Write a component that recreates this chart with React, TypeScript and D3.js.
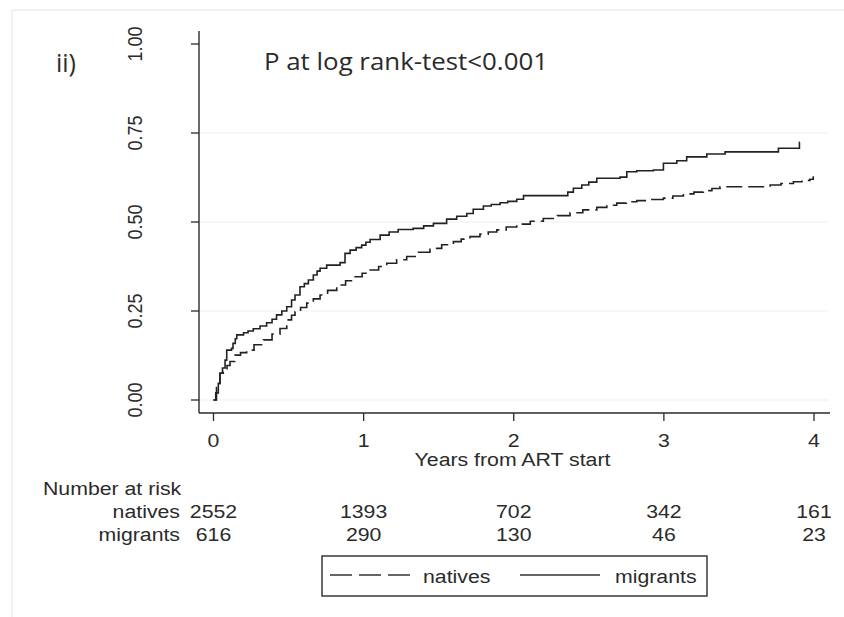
import React from "react";
import * as d3 from "d3";

// Cumulative incidence (step function) by years from ART start
const migrantsCurve: [number, number][] = [
  [0, 0], [0.015, 0.02], [0.032, 0.047], [0.043, 0.075], [0.06, 0.09], [0.077, 0.112], [0.088, 0.14],
  [0.12, 0.145], [0.13, 0.159], [0.145, 0.172], [0.155, 0.183], [0.2, 0.189], [0.23, 0.194], [0.265, 0.2],
  [0.31, 0.208], [0.354, 0.217], [0.39, 0.227], [0.42, 0.239], [0.455, 0.25], [0.488, 0.262], [0.52, 0.281], [0.543, 0.295],
  [0.576, 0.318], [0.605, 0.327], [0.632, 0.337], [0.665, 0.351], [0.69, 0.362], [0.71, 0.37], [0.754, 0.379],
  [0.843, 0.386], [0.876, 0.412], [0.91, 0.421], [0.95, 0.428], [0.987, 0.435], [1.015, 0.443], [1.043, 0.451],
  [1.11, 0.463], [1.17, 0.472], [1.23, 0.479], [1.33, 0.482], [1.4, 0.489], [1.465, 0.496], [1.553, 0.508],
  [1.62, 0.516], [1.687, 0.524], [1.73, 0.536], [1.798, 0.545], [1.85, 0.549], [1.909, 0.554], [1.96, 0.558], [2.02, 0.564],
  [2.065, 0.574], [2.32, 0.574], [2.36, 0.584], [2.397, 0.595], [2.453, 0.604], [2.5, 0.612], [2.553, 0.623],
  [2.708, 0.626], [2.753, 0.641], [2.82, 0.644], [2.93, 0.646], [2.997, 0.665],
  [3.086, 0.672], [3.152, 0.683], [3.286, 0.691], [3.408, 0.697], [3.763, 0.707],
  [3.903, 0.724], [3.905, 0.724],
];

const nativesCurve: [number, number][] = [
  [0, 0], [0.02, 0.035], [0.043, 0.075], [0.065, 0.084], [0.09, 0.097], [0.11, 0.108], [0.143, 0.126],
  [0.18, 0.133], [0.221, 0.14], [0.27, 0.155], [0.332, 0.169], [0.39, 0.185], [0.443, 0.201], [0.488, 0.225],
  [0.52, 0.238], [0.543, 0.248], [0.58, 0.26], [0.621, 0.272], [0.665, 0.284], [0.71, 0.295], [0.76, 0.308],
  [0.821, 0.323], [0.88, 0.335], [0.932, 0.346], [0.99, 0.356], [1.043, 0.365], [1.1, 0.375], [1.154, 0.384],
  [1.22, 0.394], [1.287, 0.403], [1.36, 0.415], [1.442, 0.426], [1.52, 0.436], [1.598, 0.445], [1.65, 0.452],
  [1.709, 0.459], [1.775, 0.466], [1.83, 0.472], [1.887, 0.478], [1.95, 0.486], [2.02, 0.494], [2.11, 0.502],
  [2.197, 0.51], [2.29, 0.518], [2.375, 0.526], [2.46, 0.534], [2.553, 0.541], [2.62, 0.547], [2.686, 0.553],
  [2.75, 0.557], [2.82, 0.56], [2.91, 0.563], [2.997, 0.567], [3.06, 0.573], [3.13, 0.579], [3.2, 0.584],
  [3.263, 0.588], [3.32, 0.594], [3.374, 0.599], [3.708, 0.604], [3.78, 0.608], [3.863, 0.613], [3.92, 0.617],
  [3.973, 0.62], [3.995, 0.626], [4.0, 0.626],
];

const xTicks = [0, 1, 2, 3, 4];
const yTicks = [0, 0.25, 0.5, 0.75, 1];
const gridTicks = [0, 0.25, 0.5, 0.75];

const riskGroups = ["natives", "migrants"];
const nativesAtRisk = [2552, 1393, 702, 342, 161];
const migrantsAtRisk = [616, 290, 130, 46, 23];

const W = 844;
const H = 617;
const FONT = "'Liberation Sans', Arial, sans-serif";
const TITLE_FONT = "'Open Sans', 'Noto Sans', sans-serif";
const INK = "#2b2b2b";
const STRETCH = 1.12;

// Horizontal label drawn slightly widened, like the exported graph
function Label(props: {
  x: number;
  y: number;
  anchor?: "start" | "middle" | "end";
  children: React.ReactNode;
}) {
  return (
    <text
      transform={`translate(${props.x},${props.y}) scale(${STRETCH},1)`}
      textAnchor={props.anchor ?? "start"}
      fontSize={19}
      fill={INK}
    >
      {props.children}
    </text>
  );
}

export default function App() {
  const x = d3.scaleLinear().domain([0, 4]).range([213.5, 814]);
  const y = d3.scaleLinear().domain([0, 1]).range([400, 44]);
  const axisX = 199;
  const axisY = 413;

  const line = d3
    .line<[number, number]>()
    .x((d) => x(d[0]))
    .y((d) => y(d[1]))
    .curve(d3.curveStepAfter);

  const rows = [nativesAtRisk, migrantsAtRisk];

  return (
    <svg
      width={W}
      height={H}
      style={{ position: "absolute", left: 0, top: 0, background: "#fff" }}
      fontFamily={FONT}
    >
      <rect x={0} y={0} width={W} height={H} fill="#fff" />
      {/* outer frame */}
      <line x1={12} y1={10} x2={W} y2={10} stroke="#ececec" strokeWidth={1.5} />
      <line x1={12} y1={10} x2={12} y2={H} stroke="#ececec" strokeWidth={1.5} />

      {/* gridlines */}
      {gridTicks.map((t) => (
        <line key={t} x1={axisX} x2={828} y1={y(t)} y2={y(t)} stroke="#efefef" strokeWidth={1.2} />
      ))}

      {/* y axis */}
      <line x1={axisX} x2={axisX} y1={31} y2={axisY} stroke={INK} strokeWidth={1.4} />
      {yTicks.map((t) => (
        <g key={t}>
          <line x1={191} x2={axisX} y1={y(t)} y2={y(t)} stroke={INK} strokeWidth={1.3} />
          <text
            transform={`translate(142,${y(t)}) rotate(-90) scale(1,${STRETCH})`}
            textAnchor="middle"
            fontSize={18}
            fill={INK}
          >
            {t.toFixed(2)}
          </text>
        </g>
      ))}

      {/* x axis */}
      <line x1={axisX} x2={830} y1={axisY} y2={axisY} stroke={INK} strokeWidth={1.4} />
      {xTicks.map((t) => (
        <g key={t}>
          <line x1={x(t)} x2={x(t)} y1={axisY} y2={axisY + 8} stroke={INK} strokeWidth={1.3} />
          <Label x={x(t)} y={447} anchor="middle">
            {t}
          </Label>
        </g>
      ))}
      <Label x={512.5} y={466} anchor="middle">
        Years from ART start
      </Label>

      {/* curves */}
      <path d={line(nativesCurve) ?? ""} fill="none" stroke="#222" strokeWidth={1.6} strokeDasharray="16,6" />
      <path d={line(migrantsCurve) ?? ""} fill="none" stroke="#222" strokeWidth={1.6} />

      {/* annotations */}
      <text x={56} y={72} fontFamily={TITLE_FONT} fontSize={25} fill={INK}>
        ii)
      </text>
      <text x={264} y={70} fontFamily={TITLE_FONT} fontSize={23} fill={INK} textLength={284} lengthAdjust="spacingAndGlyphs">
        P at log rank-test&lt;0.001
      </text>

      {/* number at risk table */}
      <Label x={43} y={495}>Number at risk</Label>
      {riskGroups.map((g, i) => (
        <g key={g}>
          <Label x={180} y={518 + i * 23} anchor="end">
            {g}
          </Label>
          {rows[i].map((n, j) => (
            <Label key={j} x={x(xTicks[j])} y={518 + i * 23} anchor="middle">
              {n}
            </Label>
          ))}
        </g>
      ))}

      {/* legend */}
      <rect x={322} y={556} width={385} height={40} fill="#fff" stroke={INK} strokeWidth={1.4} />
      <line x1={330} x2={410} y1={575} y2={575} stroke="#333" strokeWidth={1.6} strokeDasharray="22,7" />
      <Label x={423} y={583}>natives</Label>
      <line x1={520} x2={600} y1={575} y2={575} stroke="#333" strokeWidth={1.6} />
      <Label x={615} y={583}>migrants</Label>
    </svg>
  );
}
